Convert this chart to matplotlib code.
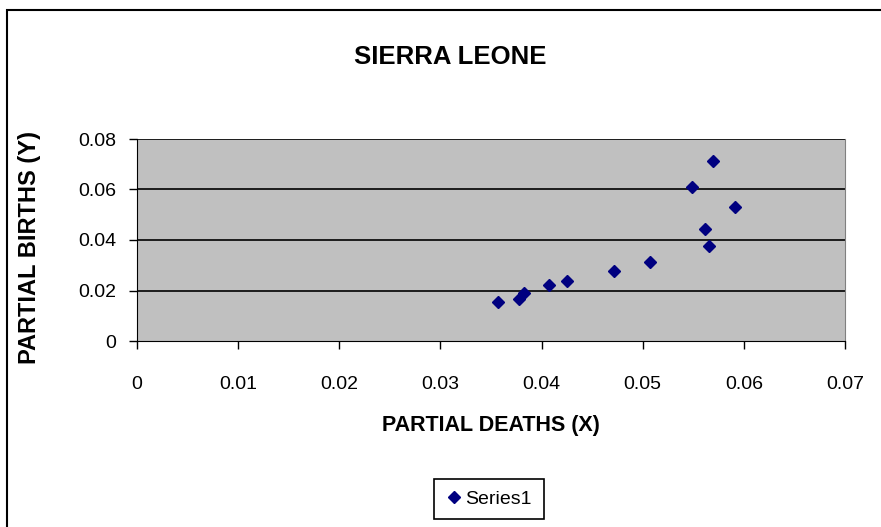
import matplotlib.pyplot as plt
from matplotlib.patches import Rectangle

plt.rcParams['font.family'] = ['Liberation Sans', 'DejaVu Sans']

# partial deaths (x) vs partial births (y)
deaths = [0.0357, 0.0378, 0.0383, 0.0407, 0.0425, 0.0472, 0.0507,
          0.0549, 0.0569, 0.0591, 0.0562, 0.0566]
births = [0.0156, 0.0166, 0.0190, 0.0222, 0.0238, 0.0277, 0.0314,
          0.0609, 0.0711, 0.0529, 0.0442, 0.0376]
xticks = [0, 0.01, 0.02, 0.03, 0.04, 0.05, 0.06, 0.07]
yticks = [0, 0.02, 0.04, 0.06, 0.08]

fig = plt.figure(figsize=(8.81, 5.27), dpi=100)
fig.patches.append(Rectangle((7 / 881, -0.02), 1.05, 1 - 10 / 527 + 0.02,
                             transform=fig.transFigure, fill=False,
                             edgecolor='black', linewidth=1.5))

ax = fig.add_axes([137 / 881, 1 - 341 / 527, 708 / 881, 202 / 527])
ax.set_facecolor('#c0c0c0')
ax.plot(deaths, births, linestyle='none', marker='D', markersize=5.8,
        color='#000080', label='Series1', zorder=3)

ax.set_xlim(0, 0.07)
ax.set_ylim(0, 0.08)
ax.set_xticks(xticks)
ax.set_xticklabels([f'{v:g}' for v in xticks])
ax.set_yticks(yticks)
ax.set_yticklabels([f'{v:g}' for v in yticks])
ax.tick_params(direction='out', length=6, width=1, colors='black',
               labelsize=14)
ax.tick_params(axis='x', pad=19)
ax.tick_params(axis='y', pad=9)

for y in yticks[1:]:
    ax.axhline(y, color='black', linewidth=1.2, zorder=1)

ax.spines['left'].set_color('black')
ax.spines['bottom'].set_color('black')
ax.spines['top'].set_visible(False)
ax.spines['right'].set_color('#808080')

ax.set_xlabel('PARTIAL DEATHS (X)', fontsize=15.5, fontweight='bold',
              labelpad=16)
ax.set_ylabel('PARTIAL BIRTHS (Y)', fontsize=17, fontweight='bold')
ax.yaxis.set_label_coords(-0.135, 0.463)
fig.text(450 / 881, 1 - 57 / 527, 'SIERRA LEONE', ha='center', va='center',
         fontsize=18.5, fontweight='bold')

leg = fig.legend(loc='center', bbox_to_anchor=(489 / 881, 1 - 499 / 527),
                 fontsize=14, handletextpad=0.2, handlelength=0.8,
                 borderpad=0.6, fancybox=False, edgecolor='black',
                 framealpha=1)
leg.get_frame().set_linewidth(1.2)

fig.savefig('out.png', dpi=100)
